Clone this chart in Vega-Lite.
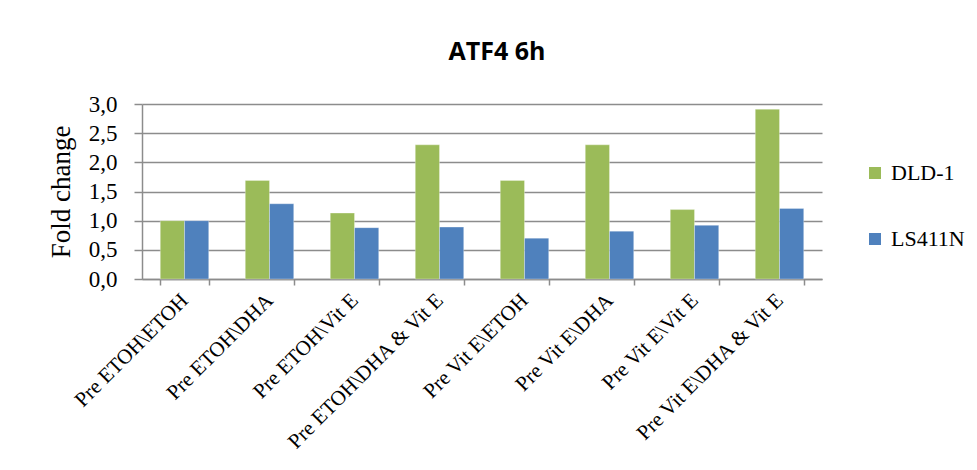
{
  "$schema": "https://vega.github.io/schema/vega-lite/v6.json",
  "width": 680,
  "height": 175,
  "autosize": "none",
  "padding": {"left": 142, "top": 104, "right": 155, "bottom": 191},
  "background": "white",
  "title": {
    "text": "ATF4 6h",
    "font": "Open Sans",
    "fontSize": 25,
    "fontWeight": "bold",
    "color": "#000000",
    "anchor": "middle",
    "dx": 15,
    "offset": 28
  },
  "data": {
    "values": [
      {"group": "Pre ETOH\\ETOH", "line": "DLD-1", "fold": 1.0},
      {"group": "Pre ETOH\\ETOH", "line": "LS411N", "fold": 1.0},
      {"group": "Pre ETOH\\DHA", "line": "DLD-1", "fold": 1.69},
      {"group": "Pre ETOH\\DHA", "line": "LS411N", "fold": 1.29},
      {"group": "Pre ETOH\\Vit E", "line": "DLD-1", "fold": 1.13},
      {"group": "Pre ETOH\\Vit E", "line": "LS411N", "fold": 0.88},
      {"group": "Pre ETOH\\DHA & Vit E", "line": "DLD-1", "fold": 2.3},
      {"group": "Pre ETOH\\DHA & Vit E", "line": "LS411N", "fold": 0.89},
      {"group": "Pre  Vit E\\ETOH", "line": "DLD-1", "fold": 1.69},
      {"group": "Pre  Vit E\\ETOH", "line": "LS411N", "fold": 0.7},
      {"group": "Pre  Vit E\\DHA", "line": "DLD-1", "fold": 2.3},
      {"group": "Pre  Vit E\\DHA", "line": "LS411N", "fold": 0.82},
      {"group": "Pre  Vit E\\Vit E", "line": "DLD-1", "fold": 1.19},
      {"group": "Pre  Vit E\\Vit E", "line": "LS411N", "fold": 0.92},
      {"group": "Pre Vit E\\DHA & Vit E", "line": "DLD-1", "fold": 2.91},
      {"group": "Pre Vit E\\DHA & Vit E", "line": "LS411N", "fold": 1.21}
    ]
  },
  "mark": {"type": "bar", "stroke": "white", "strokeWidth": 0.5, "strokeOpacity": 0.6},
  "encoding": {
    "x": {
      "field": "group",
      "type": "nominal",
      "sort": null,
      "title": null,
      "scale": {"paddingInner": 0.43, "paddingOuter": 0.215},
      "axis": {
        "labelAngle": -45,
        "labelAlign": "right",
        "labelBaseline": "middle",
        "labelFont": "Liberation Serif",
        "labelFontSize": 21,
        "labelColor": "#000000",
        "labelPadding": 12,
        "labelLimit": 400,
        "tickBand": "extent",
        "tickColor": "#8c8c8c",
        "tickSize": 6,
        "tickWidth": 1.5,
        "domainColor": "#8c8c8c",
        "domainWidth": 1.5
      }
    },
    "xOffset": {"field": "line", "type": "nominal", "scale": {"paddingInner": 0, "paddingOuter": 0}},
    "y": {
      "field": "fold",
      "type": "quantitative",
      "title": "Fold change",
      "scale": {"domain": [0, 3], "nice": false},
      "axis": {
        "values": [0, 0.5, 1, 1.5, 2, 2.5, 3],
        "format": ".1f",
        "labelExpr": "replace(datum.label, '.', ',')",
        "labelFont": "Liberation Serif",
        "labelFontSize": 23,
        "labelColor": "#000000",
        "labelPadding": 17,
        "titleFont": "Liberation Serif",
        "titleFontSize": 27,
        "titleFontWeight": "normal",
        "titleColor": "#000000",
        "titlePadding": 13,
        "tickColor": "#8c8c8c",
        "tickSize": 8,
        "tickWidth": 1.5,
        "domainColor": "#8c8c8c",
        "domainWidth": 1.5,
        "grid": true,
        "gridColor": "#8c8c8c",
        "gridWidth": 1.5
      }
    },
    "color": {
      "field": "line",
      "type": "nominal",
      "title": null,
      "scale": {"domain": ["DLD-1", "LS411N"], "range": ["#9bbb59", "#4f81bd"]},
      "legend": {
        "orient": "none",
        "legendX": 722,
        "legendY": 58,
        "symbolType": "square",
        "symbolSize": 144,
        "symbolStrokeWidth": 0,
        "labelFont": "Liberation Serif",
        "labelFontSize": 22,
        "labelColor": "#000000",
        "labelOffset": 5,
        "rowPadding": 44
      }
    }
  },
  "config": {
    "view": {"stroke": null}
  }
}
